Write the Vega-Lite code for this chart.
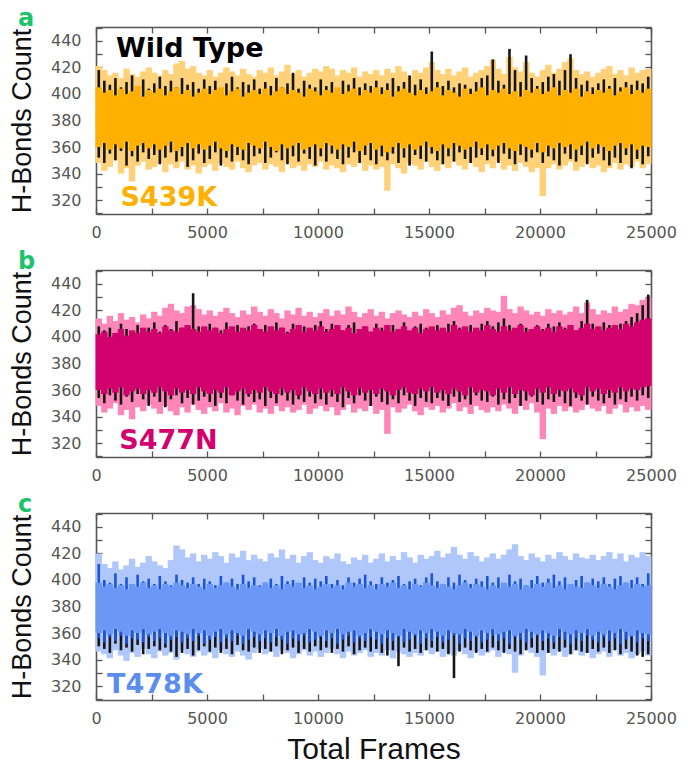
{
"$schema": "https://vega.github.io/schema/vega-lite/v6.json",
"background": "white",
"padding": {"left": 8, "top": 7, "right": 5, "bottom": 3},
"spacing": 56,
"bounds": "flush",
"config": {
  "view": {"stroke": null},
  "axis": {"grid": false, "domainColor": "#555", "domainWidth": 1.6, "tickColor": "#555", "tickWidth": 1.3, "tickSize": -6, "labelFont": "DejaVu Sans", "labelFontSize": 16, "labelColor": "#555", "labelFlush": false, "titleFont": "Liberation Sans", "titleFontWeight": "normal", "titleColor": "#111"},
  "title": {"anchor": "start", "frame": "group", "dx": -78, "offset": -5, "fontSize": 24, "fontWeight": "bold", "color": "#1DC36A", "font": "DejaVu Sans"}
},
"datasets": {
"a": [
{"x":125,"l0":348,"l1":421,"k0":352,"k1":418,"c0":360,"c1":405},
{"x":375,"l0":342,"l1":418,"k0":348,"k1":410,"c0":363,"c1":401},
{"x":625,"l0":345,"l1":414,"k0":355,"k1":407,"c0":358,"c1":403},
{"x":875,"l0":350,"l1":416,"k0":350,"k1":412,"c0":362,"c1":399},
{"x":1125,"l0":340,"l1":412,"k0":357,"k1":405,"c0":359,"c1":404},
{"x":1375,"l0":344,"l1":419,"k0":346,"k1":409,"c0":364,"c1":400},
{"x":1625,"l0":334,"l1":415,"k0":353,"k1":414,"c0":357,"c1":402},
{"x":1875,"l0":346,"l1":413,"k0":349,"k1":406,"c0":361,"c1":406},
{"x":2125,"l0":349,"l1":417,"k0":356,"k1":411,"c0":363,"c1":398},
{"x":2375,"l0":343,"l1":420,"k0":351,"k1":404,"c0":359,"c1":403},
{"x":2625,"l0":345,"l1":416,"k0":354,"k1":408,"c0":362,"c1":401},
{"x":2875,"l0":348,"l1":414,"k0":347,"k1":413,"c0":358,"c1":404},
{"x":3125,"l0":341,"l1":418,"k0":352,"k1":406,"c0":361,"c1":399},
{"x":3375,"l0":347,"l1":415,"k0":356,"k1":410,"c0":364,"c1":402},
{"x":3625,"l0":344,"l1":423,"k0":349,"k1":405,"c0":357,"c1":405},
{"x":3875,"l0":349,"l1":425,"k0":353,"k1":412,"c0":360,"c1":400},
{"x":4125,"l0":343,"l1":419,"k0":345,"k1":407,"c0":363,"c1":403},
{"x":4375,"l0":346,"l1":421,"k0":350,"k1":409,"c0":359,"c1":398},
{"x":4625,"l0":340,"l1":416,"k0":355,"k1":404,"c0":362,"c1":401},
{"x":4875,"l0":345,"l1":414,"k0":348,"k1":411,"c0":358,"c1":404},
{"x":5125,"l0":347,"l1":418,"k0":351,"k1":406,"c0":361,"c1":400},
{"x":5375,"l0":342,"l1":413,"k0":356,"k1":410,"c0":364,"c1":403},
{"x":5625,"l0":348,"l1":416,"k0":346,"k1":404,"c0":359,"c1":405},
{"x":5875,"l0":345,"l1":420,"k0":352,"k1":408,"c0":357,"c1":399},
{"x":6125,"l0":343,"l1":417,"k0":349,"k1":413,"c0":362,"c1":402},
{"x":6375,"l0":349,"l1":414,"k0":354,"k1":405,"c0":360,"c1":404},
{"x":6625,"l0":344,"l1":419,"k0":350,"k1":409,"c0":358,"c1":398},
{"x":6875,"l0":341,"l1":415,"k0":347,"k1":407,"c0":363,"c1":401},
{"x":7125,"l0":346,"l1":413,"k0":353,"k1":411,"c0":361,"c1":403},
{"x":7375,"l0":348,"l1":418,"k0":355,"k1":404,"c0":359,"c1":400},
{"x":7625,"l0":343,"l1":416,"k0":348,"k1":409,"c0":364,"c1":404},
{"x":7875,"l0":347,"l1":420,"k0":352,"k1":406,"c0":360,"c1":399},
{"x":8125,"l0":345,"l1":414,"k0":356,"k1":412,"c0":357,"c1":402},
{"x":8375,"l0":341,"l1":417,"k0":350,"k1":405,"c0":362,"c1":405},
{"x":8625,"l0":348,"l1":422,"k0":347,"k1":408,"c0":359,"c1":400},
{"x":8875,"l0":344,"l1":415,"k0":353,"k1":416,"c0":361,"c1":403},
{"x":9125,"l0":346,"l1":418,"k0":349,"k1":404,"c0":363,"c1":401},
{"x":9375,"l0":342,"l1":413,"k0":355,"k1":410,"c0":358,"c1":398},
{"x":9625,"l0":347,"l1":416,"k0":351,"k1":407,"c0":360,"c1":404},
{"x":9875,"l0":345,"l1":419,"k0":346,"k1":405,"c0":362,"c1":402},
{"x":10125,"l0":349,"l1":417,"k0":353,"k1":411,"c0":359,"c1":399},
{"x":10375,"l0":343,"l1":421,"k0":349,"k1":406,"c0":363,"c1":403},
{"x":10625,"l0":346,"l1":419,"k0":355,"k1":409,"c0":361,"c1":401},
{"x":10875,"l0":344,"l1":414,"k0":351,"k1":404,"c0":358,"c1":405},
{"x":11125,"l0":341,"l1":418,"k0":347,"k1":410,"c0":362,"c1":400},
{"x":11375,"l0":347,"l1":416,"k0":352,"k1":407,"c0":360,"c1":402},
{"x":11625,"l0":345,"l1":420,"k0":356,"k1":412,"c0":364,"c1":404},
{"x":11875,"l0":348,"l1":413,"k0":348,"k1":405,"c0":357,"c1":399},
{"x":12125,"l0":342,"l1":417,"k0":354,"k1":408,"c0":361,"c1":403},
{"x":12375,"l0":346,"l1":415,"k0":350,"k1":406,"c0":363,"c1":401},
{"x":12625,"l0":343,"l1":418,"k0":347,"k1":410,"c0":358,"c1":405},
{"x":12875,"l0":345,"l1":414,"k0":353,"k1":405,"c0":361,"c1":400},
{"x":13125,"l0":327,"l1":419,"k0":350,"k1":408,"c0":356,"c1":403},
{"x":13375,"l0":347,"l1":416,"k0":355,"k1":412,"c0":360,"c1":398},
{"x":13625,"l0":344,"l1":421,"k0":348,"k1":406,"c0":363,"c1":402},
{"x":13875,"l0":340,"l1":417,"k0":352,"k1":409,"c0":359,"c1":404},
{"x":14125,"l0":348,"l1":413,"k0":346,"k1":414,"c0":362,"c1":401},
{"x":14375,"l0":346,"l1":418,"k0":354,"k1":407,"c0":358,"c1":399},
{"x":14625,"l0":343,"l1":416,"k0":351,"k1":411,"c0":361,"c1":403},
{"x":14875,"l0":349,"l1":420,"k0":349,"k1":405,"c0":364,"c1":400},
{"x":15125,"l0":345,"l1":424,"k0":355,"k1":432,"c0":360,"c1":402},
{"x":15375,"l0":342,"l1":418,"k0":350,"k1":409,"c0":357,"c1":405},
{"x":15625,"l0":347,"l1":415,"k0":347,"k1":406,"c0":362,"c1":399},
{"x":15875,"l0":344,"l1":419,"k0":353,"k1":410,"c0":359,"c1":403},
{"x":16125,"l0":349,"l1":414,"k0":349,"k1":405,"c0":363,"c1":401},
{"x":16375,"l0":346,"l1":417,"k0":356,"k1":408,"c0":361,"c1":398},
{"x":16625,"l0":343,"l1":420,"k0":351,"k1":407,"c0":358,"c1":404},
{"x":16875,"l0":348,"l1":413,"k0":348,"k1":404,"c0":360,"c1":400},
{"x":17125,"l0":345,"l1":416,"k0":352,"k1":409,"c0":364,"c1":402},
{"x":17375,"l0":341,"l1":418,"k0":354,"k1":412,"c0":359,"c1":405},
{"x":17625,"l0":347,"l1":421,"k0":350,"k1":414,"c0":362,"c1":399},
{"x":17875,"l0":344,"l1":426,"k0":353,"k1":426,"c0":358,"c1":403},
{"x":18125,"l0":349,"l1":419,"k0":348,"k1":410,"c0":361,"c1":401},
{"x":18375,"l0":343,"l1":415,"k0":355,"k1":407,"c0":363,"c1":404},
{"x":18625,"l0":346,"l1":428,"k0":351,"k1":434,"c0":359,"c1":400},
{"x":18875,"l0":342,"l1":420,"k0":347,"k1":418,"c0":357,"c1":402},
{"x":19125,"l0":348,"l1":417,"k0":354,"k1":409,"c0":362,"c1":398},
{"x":19375,"l0":345,"l1":424,"k0":349,"k1":429,"c0":360,"c1":403},
{"x":19625,"l0":341,"l1":416,"k0":352,"k1":412,"c0":358,"c1":401},
{"x":19875,"l0":344,"l1":413,"k0":356,"k1":406,"c0":363,"c1":404},
{"x":20125,"l0":323,"l1":418,"k0":348,"k1":409,"c0":356,"c1":400},
{"x":20375,"l0":344,"l1":422,"k0":353,"k1":413,"c0":361,"c1":402},
{"x":20625,"l0":347,"l1":416,"k0":350,"k1":415,"c0":359,"c1":405},
{"x":20875,"l0":343,"l1":419,"k0":346,"k1":410,"c0":363,"c1":399},
{"x":21125,"l0":346,"l1":424,"k0":355,"k1":418,"c0":360,"c1":403},
{"x":21375,"l0":349,"l1":427,"k0":351,"k1":430,"c0":362,"c1":401},
{"x":21625,"l0":342,"l1":418,"k0":349,"k1":412,"c0":358,"c1":404},
{"x":21875,"l0":345,"l1":415,"k0":354,"k1":407,"c0":361,"c1":398},
{"x":22125,"l0":348,"l1":417,"k0":347,"k1":410,"c0":364,"c1":402},
{"x":22375,"l0":344,"l1":413,"k0":352,"k1":405,"c0":359,"c1":400},
{"x":22625,"l0":346,"l1":416,"k0":355,"k1":408,"c0":362,"c1":403},
{"x":22875,"l0":341,"l1":419,"k0":350,"k1":411,"c0":360,"c1":401},
{"x":23125,"l0":344,"l1":421,"k0":346,"k1":406,"c0":357,"c1":404},
{"x":23375,"l0":348,"l1":415,"k0":352,"k1":412,"c0":361,"c1":399},
{"x":23625,"l0":343,"l1":418,"k0":348,"k1":405,"c0":363,"c1":402},
{"x":23875,"l0":347,"l1":414,"k0":354,"k1":409,"c0":359,"c1":405},
{"x":24125,"l0":345,"l1":420,"k0":344,"k1":407,"c0":362,"c1":400},
{"x":24375,"l0":349,"l1":416,"k0":351,"k1":410,"c0":358,"c1":403},
{"x":24625,"l0":344,"l1":418,"k0":347,"k1":408,"c0":361,"c1":401},
{"x":24875,"l0":347,"l1":419,"k0":353,"k1":413,"c0":360,"c1":404}
],
"b": [
{"x":125,"l0":348,"l1":414,"k0":354,"k1":408,"c0":360,"c1":402},
{"x":375,"l0":343,"l1":410,"k0":350,"k1":405,"c0":357,"c1":404},
{"x":625,"l0":346,"l1":416,"k0":356,"k1":407,"c0":361,"c1":400},
{"x":875,"l0":350,"l1":412,"k0":352,"k1":403,"c0":358,"c1":403},
{"x":1125,"l0":341,"l1":418,"k0":349,"k1":410,"c0":362,"c1":406},
{"x":1375,"l0":345,"l1":413,"k0":355,"k1":406,"c0":356,"c1":401},
{"x":1625,"l0":338,"l1":415,"k0":351,"k1":404,"c0":359,"c1":405},
{"x":1875,"l0":347,"l1":411,"k0":357,"k1":409,"c0":361,"c1":403},
{"x":2125,"l0":344,"l1":417,"k0":353,"k1":405,"c0":357,"c1":407},
{"x":2375,"l0":349,"l1":414,"k0":348,"k1":407,"c0":360,"c1":404},
{"x":2625,"l0":346,"l1":419,"k0":355,"k1":411,"c0":358,"c1":406},
{"x":2875,"l0":342,"l1":416,"k0":351,"k1":404,"c0":362,"c1":403},
{"x":3125,"l0":348,"l1":422,"k0":347,"k1":409,"c0":359,"c1":408},
{"x":3375,"l0":344,"l1":425,"k0":353,"k1":406,"c0":356,"c1":405},
{"x":3625,"l0":341,"l1":420,"k0":356,"k1":412,"c0":361,"c1":404},
{"x":3875,"l0":347,"l1":418,"k0":350,"k1":407,"c0":358,"c1":407},
{"x":4125,"l0":343,"l1":423,"k0":354,"k1":405,"c0":360,"c1":409},
{"x":4375,"l0":349,"l1":424,"k0":349,"k1":433,"c0":357,"c1":406},
{"x":4625,"l0":345,"l1":421,"k0":352,"k1":408,"c0":362,"c1":404},
{"x":4875,"l0":342,"l1":417,"k0":355,"k1":406,"c0":359,"c1":408},
{"x":5125,"l0":347,"l1":420,"k0":351,"k1":410,"c0":357,"c1":405},
{"x":5375,"l0":344,"l1":416,"k0":348,"k1":407,"c0":360,"c1":407},
{"x":5625,"l0":350,"l1":419,"k0":354,"k1":405,"c0":358,"c1":403},
{"x":5875,"l0":343,"l1":422,"k0":350,"k1":411,"c0":362,"c1":406},
{"x":6125,"l0":346,"l1":418,"k0":356,"k1":406,"c0":356,"c1":408},
{"x":6375,"l0":341,"l1":415,"k0":352,"k1":409,"c0":359,"c1":404},
{"x":6625,"l0":348,"l1":420,"k0":349,"k1":404,"c0":361,"c1":407},
{"x":6875,"l0":345,"l1":417,"k0":355,"k1":408,"c0":357,"c1":405},
{"x":7125,"l0":349,"l1":423,"k0":351,"k1":410,"c0":360,"c1":409},
{"x":7375,"l0":343,"l1":419,"k0":353,"k1":406,"c0":358,"c1":406},
{"x":7625,"l0":346,"l1":416,"k0":348,"k1":409,"c0":362,"c1":404},
{"x":7875,"l0":342,"l1":421,"k0":354,"k1":405,"c0":359,"c1":408},
{"x":8125,"l0":348,"l1":418,"k0":350,"k1":411,"c0":357,"c1":405},
{"x":8375,"l0":344,"l1":414,"k0":356,"k1":407,"c0":361,"c1":407},
{"x":8625,"l0":347,"l1":420,"k0":352,"k1":404,"c0":358,"c1":403},
{"x":8875,"l0":343,"l1":417,"k0":349,"k1":410,"c0":360,"c1":406},
{"x":9125,"l0":345,"l1":422,"k0":353,"k1":406,"c0":356,"c1":409},
{"x":9375,"l0":349,"l1":416,"k0":351,"k1":408,"c0":362,"c1":404},
{"x":9625,"l0":342,"l1":419,"k0":355,"k1":405,"c0":359,"c1":407},
{"x":9875,"l0":346,"l1":415,"k0":350,"k1":409,"c0":357,"c1":405},
{"x":10125,"l0":348,"l1":418,"k0":353,"k1":412,"c0":361,"c1":408},
{"x":10375,"l0":344,"l1":421,"k0":349,"k1":406,"c0":358,"c1":404},
{"x":10625,"l0":347,"l1":416,"k0":355,"k1":410,"c0":360,"c1":406},
{"x":10875,"l0":341,"l1":420,"k0":351,"k1":407,"c0":357,"c1":409},
{"x":11125,"l0":345,"l1":417,"k0":347,"k1":405,"c0":362,"c1":405},
{"x":11375,"l0":349,"l1":423,"k0":354,"k1":409,"c0":359,"c1":407},
{"x":11625,"l0":343,"l1":419,"k0":350,"k1":411,"c0":356,"c1":403},
{"x":11875,"l0":346,"l1":415,"k0":356,"k1":406,"c0":361,"c1":406},
{"x":12125,"l0":344,"l1":418,"k0":352,"k1":408,"c0":358,"c1":408},
{"x":12375,"l0":348,"l1":421,"k0":348,"k1":404,"c0":360,"c1":404},
{"x":12625,"l0":342,"l1":416,"k0":355,"k1":410,"c0":357,"c1":407},
{"x":12875,"l0":345,"l1":419,"k0":351,"k1":407,"c0":361,"c1":405},
{"x":13125,"l0":327,"l1":414,"k0":349,"k1":405,"c0":359,"c1":409},
{"x":13375,"l0":347,"l1":418,"k0":353,"k1":409,"c0":356,"c1":404},
{"x":13625,"l0":343,"l1":420,"k0":350,"k1":406,"c0":360,"c1":406},
{"x":13875,"l0":346,"l1":417,"k0":356,"k1":411,"c0":362,"c1":408},
{"x":14125,"l0":349,"l1":415,"k0":352,"k1":404,"c0":358,"c1":405},
{"x":14375,"l0":344,"l1":419,"k0":348,"k1":408,"c0":357,"c1":407},
{"x":14625,"l0":341,"l1":416,"k0":354,"k1":410,"c0":361,"c1":403},
{"x":14875,"l0":347,"l1":421,"k0":351,"k1":407,"c0":359,"c1":406},
{"x":15125,"l0":345,"l1":418,"k0":350,"k1":405,"c0":362,"c1":408},
{"x":15375,"l0":348,"l1":415,"k0":354,"k1":409,"c0":358,"c1":405},
{"x":15625,"l0":343,"l1":420,"k0":352,"k1":406,"c0":360,"c1":407},
{"x":15875,"l0":346,"l1":417,"k0":348,"k1":410,"c0":357,"c1":404},
{"x":16125,"l0":350,"l1":422,"k0":355,"k1":412,"c0":361,"c1":409},
{"x":16375,"l0":344,"l1":424,"k0":351,"k1":407,"c0":359,"c1":406},
{"x":16625,"l0":347,"l1":419,"k0":353,"k1":405,"c0":356,"c1":408},
{"x":16875,"l0":342,"l1":416,"k0":349,"k1":409,"c0":362,"c1":404},
{"x":17125,"l0":348,"l1":420,"k0":356,"k1":406,"c0":358,"c1":407},
{"x":17375,"l0":345,"l1":418,"k0":352,"k1":410,"c0":360,"c1":405},
{"x":17625,"l0":343,"l1":422,"k0":351,"k1":412,"c0":359,"c1":409},
{"x":17875,"l0":347,"l1":420,"k0":355,"k1":408,"c0":356,"c1":406},
{"x":18125,"l0":344,"l1":419,"k0":349,"k1":411,"c0":361,"c1":404},
{"x":18375,"l0":349,"l1":431,"k0":353,"k1":414,"c0":358,"c1":408},
{"x":18625,"l0":346,"l1":421,"k0":350,"k1":409,"c0":362,"c1":405},
{"x":18875,"l0":342,"l1":418,"k0":354,"k1":406,"c0":357,"c1":407},
{"x":19125,"l0":348,"l1":423,"k0":348,"k1":410,"c0":360,"c1":409},
{"x":19375,"l0":345,"l1":420,"k0":352,"k1":407,"c0":359,"c1":404},
{"x":19625,"l0":350,"l1":417,"k0":355,"k1":405,"c0":356,"c1":406},
{"x":19875,"l0":343,"l1":419,"k0":351,"k1":409,"c0":361,"c1":408},
{"x":20125,"l0":323,"l1":416,"k0":349,"k1":406,"c0":358,"c1":405},
{"x":20375,"l0":346,"l1":421,"k0":353,"k1":410,"c0":362,"c1":407},
{"x":20625,"l0":342,"l1":418,"k0":351,"k1":408,"c0":357,"c1":404},
{"x":20875,"l0":348,"l1":420,"k0":355,"k1":411,"c0":360,"c1":408},
{"x":21125,"l0":344,"l1":417,"k0":350,"k1":407,"c0":359,"c1":406},
{"x":21375,"l0":347,"l1":419,"k0":348,"k1":409,"c0":361,"c1":409},
{"x":21625,"l0":343,"l1":423,"k0":354,"k1":405,"c0":358,"c1":405},
{"x":21875,"l0":345,"l1":418,"k0":352,"k1":412,"c0":356,"c1":407},
{"x":22125,"l0":349,"l1":426,"k0":349,"k1":428,"c0":362,"c1":410},
{"x":22375,"l0":346,"l1":421,"k0":355,"k1":410,"c0":359,"c1":406},
{"x":22625,"l0":344,"l1":417,"k0":352,"k1":407,"c0":361,"c1":408},
{"x":22875,"l0":348,"l1":420,"k0":350,"k1":411,"c0":357,"c1":405},
{"x":23125,"l0":342,"l1":418,"k0":354,"k1":409,"c0":360,"c1":407},
{"x":23375,"l0":346,"l1":423,"k0":349,"k1":406,"c0":358,"c1":409},
{"x":23625,"l0":349,"l1":419,"k0":353,"k1":410,"c0":362,"c1":406},
{"x":23875,"l0":343,"l1":421,"k0":351,"k1":412,"c0":359,"c1":410},
{"x":24125,"l0":347,"l1":425,"k0":355,"k1":415,"c0":361,"c1":408},
{"x":24375,"l0":344,"l1":424,"k0":352,"k1":418,"c0":360,"c1":411},
{"x":24625,"l0":348,"l1":428,"k0":356,"k1":424,"c0":362,"c1":413},
{"x":24875,"l0":345,"l1":430,"k0":354,"k1":432,"c0":363,"c1":414}
],
"c": [
{"x":125,"l0":346,"l1":420,"k0":350,"d0":356,"d1":412,"c0":360,"c1":398},
{"x":375,"l0":344,"l1":412,"k0":348,"d0":353,"d1":400,"c0":362,"c1":395},
{"x":625,"l0":341,"l1":409,"k0":345,"d0":357,"d1":398,"c0":359,"c1":397},
{"x":875,"l0":347,"l1":414,"k0":352,"d0":354,"d1":405,"c0":363,"c1":394},
{"x":1125,"l0":343,"l1":408,"k0":347,"d0":358,"d1":397,"c0":361,"c1":396},
{"x":1375,"l0":339,"l1":411,"k0":349,"d0":352,"d1":402,"c0":358,"c1":393},
{"x":1625,"l0":345,"l1":416,"k0":346,"d0":356,"d1":396,"c0":362,"c1":397},
{"x":1875,"l0":342,"l1":410,"k0":351,"d0":355,"d1":404,"c0":360,"c1":395},
{"x":2125,"l0":348,"l1":413,"k0":344,"d0":353,"d1":399,"c0":363,"c1":398},
{"x":2375,"l0":344,"l1":418,"k0":348,"d0":357,"d1":401,"c0":359,"c1":394},
{"x":2625,"l0":341,"l1":414,"k0":350,"d0":354,"d1":397,"c0":361,"c1":396},
{"x":2875,"l0":346,"l1":411,"k0":347,"d0":356,"d1":403,"c0":363,"c1":393},
{"x":3125,"l0":343,"l1":409,"k0":349,"d0":352,"d1":399,"c0":360,"c1":397},
{"x":3375,"l0":345,"l1":415,"k0":346,"d0":355,"d1":396,"c0":358,"c1":395},
{"x":3625,"l0":340,"l1":426,"k0":342,"d0":357,"d1":404,"c0":362,"c1":398},
{"x":3875,"l0":347,"l1":423,"k0":345,"d0":353,"d1":400,"c0":361,"c1":396},
{"x":4125,"l0":344,"l1":417,"k0":348,"d0":356,"d1":398,"c0":359,"c1":394},
{"x":4375,"l0":342,"l1":420,"k0":343,"d0":354,"d1":402,"c0":363,"c1":397},
{"x":4625,"l0":346,"l1":414,"k0":347,"d0":358,"d1":397,"c0":360,"c1":395},
{"x":4875,"l0":343,"l1":419,"k0":350,"d0":352,"d1":401,"c0":362,"c1":393},
{"x":5125,"l0":345,"l1":416,"k0":346,"d0":355,"d1":399,"c0":358,"c1":397},
{"x":5375,"l0":341,"l1":421,"k0":349,"d0":357,"d1":396,"c0":361,"c1":394},
{"x":5625,"l0":347,"l1":418,"k0":345,"d0":353,"d1":403,"c0":363,"c1":396},
{"x":5875,"l0":344,"l1":413,"k0":348,"d0":356,"d1":398,"c0":359,"c1":398},
{"x":6125,"l0":342,"l1":420,"k0":344,"d0":354,"d1":401,"c0":362,"c1":395},
{"x":6375,"l0":346,"l1":417,"k0":351,"d0":358,"d1":397,"c0":360,"c1":393},
{"x":6625,"l0":343,"l1":422,"k0":347,"d0":352,"d1":404,"c0":358,"c1":397},
{"x":6875,"l0":340,"l1":415,"k0":346,"d0":355,"d1":399,"c0":363,"c1":394},
{"x":7125,"l0":345,"l1":419,"k0":349,"d0":357,"d1":402,"c0":361,"c1":396},
{"x":7375,"l0":348,"l1":416,"k0":345,"d0":354,"d1":396,"c0":359,"c1":395},
{"x":7625,"l0":344,"l1":414,"k0":348,"d0":356,"d1":398,"c0":362,"c1":398},
{"x":7875,"l0":346,"l1":420,"k0":346,"d0":353,"d1":401,"c0":360,"c1":394},
{"x":8125,"l0":342,"l1":417,"k0":350,"d0":357,"d1":397,"c0":363,"c1":396},
{"x":8375,"l0":347,"l1":423,"k0":344,"d0":355,"d1":403,"c0":358,"c1":393},
{"x":8625,"l0":345,"l1":416,"k0":347,"d0":352,"d1":399,"c0":361,"c1":397},
{"x":8875,"l0":341,"l1":419,"k0":349,"d0":356,"d1":400,"c0":362,"c1":395},
{"x":9125,"l0":344,"l1":413,"k0":345,"d0":354,"d1":396,"c0":359,"c1":398},
{"x":9375,"l0":347,"l1":418,"k0":348,"d0":358,"d1":402,"c0":360,"c1":394},
{"x":9625,"l0":343,"l1":421,"k0":346,"d0":353,"d1":398,"c0":363,"c1":396},
{"x":9875,"l0":346,"l1":415,"k0":350,"d0":355,"d1":401,"c0":361,"c1":393},
{"x":10125,"l0":342,"l1":413,"k0":347,"d0":357,"d1":399,"c0":358,"c1":395},
{"x":10375,"l0":345,"l1":418,"k0":349,"d0":354,"d1":403,"c0":362,"c1":397},
{"x":10625,"l0":348,"l1":416,"k0":345,"d0":356,"d1":397,"c0":360,"c1":394},
{"x":10875,"l0":344,"l1":420,"k0":348,"d0":352,"d1":400,"c0":363,"c1":396},
{"x":11125,"l0":341,"l1":414,"k0":346,"d0":355,"d1":396,"c0":359,"c1":393},
{"x":11375,"l0":346,"l1":412,"k0":350,"d0":358,"d1":402,"c0":361,"c1":398},
{"x":11625,"l0":343,"l1":417,"k0":344,"d0":353,"d1":398,"c0":362,"c1":395},
{"x":11875,"l0":345,"l1":415,"k0":347,"d0":356,"d1":401,"c0":358,"c1":397},
{"x":12125,"l0":347,"l1":419,"k0":349,"d0":354,"d1":404,"c0":360,"c1":394},
{"x":12375,"l0":342,"l1":413,"k0":346,"d0":357,"d1":399,"c0":363,"c1":396},
{"x":12625,"l0":345,"l1":416,"k0":348,"d0":355,"d1":397,"c0":361,"c1":393},
{"x":12875,"l0":343,"l1":420,"k0":345,"d0":352,"d1":402,"c0":359,"c1":397},
{"x":13125,"l0":347,"l1":414,"k0":343,"d0":356,"d1":398,"c0":362,"c1":395},
{"x":13375,"l0":341,"l1":418,"k0":347,"d0":354,"d1":400,"c0":360,"c1":398},
{"x":13625,"l0":346,"l1":415,"k0":335,"d0":357,"d1":403,"c0":358,"c1":394},
{"x":13875,"l0":344,"l1":421,"k0":349,"d0":353,"d1":397,"c0":363,"c1":396},
{"x":14125,"l0":342,"l1":417,"k0":346,"d0":355,"d1":399,"c0":361,"c1":393},
{"x":14375,"l0":345,"l1":413,"k0":348,"d0":358,"d1":401,"c0":359,"c1":397},
{"x":14625,"l0":343,"l1":419,"k0":345,"d0":352,"d1":396,"c0":362,"c1":395},
{"x":14875,"l0":347,"l1":416,"k0":347,"d0":356,"d1":402,"c0":360,"c1":398},
{"x":15125,"l0":344,"l1":418,"k0":349,"d0":354,"d1":405,"c0":363,"c1":396},
{"x":15375,"l0":346,"l1":422,"k0":346,"d0":357,"d1":399,"c0":361,"c1":394},
{"x":15625,"l0":342,"l1":417,"k0":348,"d0":353,"d1":397,"c0":358,"c1":397},
{"x":15875,"l0":345,"l1":420,"k0":344,"d0":355,"d1":402,"c0":362,"c1":395},
{"x":16125,"l0":343,"l1":425,"k0":326,"d0":358,"d1":398,"c0":360,"c1":393},
{"x":16375,"l0":347,"l1":419,"k0":346,"d0":352,"d1":404,"c0":359,"c1":396},
{"x":16625,"l0":344,"l1":416,"k0":349,"d0":356,"d1":400,"c0":363,"c1":398},
{"x":16875,"l0":341,"l1":421,"k0":347,"d0":354,"d1":397,"c0":361,"c1":394},
{"x":17125,"l0":346,"l1":418,"k0":345,"d0":357,"d1":401,"c0":358,"c1":397},
{"x":17375,"l0":343,"l1":414,"k0":348,"d0":353,"d1":399,"c0":362,"c1":395},
{"x":17625,"l0":345,"l1":417,"k0":346,"d0":355,"d1":403,"c0":360,"c1":393},
{"x":17875,"l0":347,"l1":420,"k0":349,"d0":358,"d1":398,"c0":363,"c1":396},
{"x":18125,"l0":342,"l1":416,"k0":347,"d0":354,"d1":402,"c0":359,"c1":394},
{"x":18375,"l0":346,"l1":419,"k0":345,"d0":356,"d1":397,"c0":361,"c1":398},
{"x":18625,"l0":344,"l1":423,"k0":348,"d0":352,"d1":404,"c0":362,"c1":395},
{"x":18875,"l0":330,"l1":427,"k0":346,"d0":357,"d1":399,"c0":358,"c1":397},
{"x":19125,"l0":343,"l1":418,"k0":344,"d0":355,"d1":401,"c0":360,"c1":393},
{"x":19375,"l0":347,"l1":415,"k0":347,"d0":353,"d1":396,"c0":363,"c1":396},
{"x":19625,"l0":345,"l1":420,"k0":349,"d0":356,"d1":400,"c0":361,"c1":394},
{"x":19875,"l0":342,"l1":417,"k0":345,"d0":358,"d1":403,"c0":359,"c1":397},
{"x":20125,"l0":328,"l1":414,"k0":347,"d0":354,"d1":398,"c0":362,"c1":395},
{"x":20375,"l0":345,"l1":419,"k0":345,"d0":356,"d1":401,"c0":360,"c1":398},
{"x":20625,"l0":343,"l1":416,"k0":348,"d0":353,"d1":404,"c0":358,"c1":394},
{"x":20875,"l0":346,"l1":421,"k0":346,"d0":357,"d1":399,"c0":363,"c1":396},
{"x":21125,"l0":342,"l1":418,"k0":349,"d0":355,"d1":402,"c0":361,"c1":393},
{"x":21375,"l0":344,"l1":415,"k0":344,"d0":352,"d1":397,"c0":359,"c1":397},
{"x":21625,"l0":347,"l1":420,"k0":347,"d0":356,"d1":400,"c0":362,"c1":395},
{"x":21875,"l0":343,"l1":417,"k0":346,"d0":354,"d1":403,"c0":360,"c1":394},
{"x":22125,"l0":345,"l1":416,"k0":345,"d0":358,"d1":398,"c0":363,"c1":398},
{"x":22375,"l0":341,"l1":419,"k0":348,"d0":355,"d1":401,"c0":358,"c1":396},
{"x":22625,"l0":344,"l1":415,"k0":346,"d0":353,"d1":399,"c0":361,"c1":394},
{"x":22875,"l0":346,"l1":418,"k0":349,"d0":357,"d1":402,"c0":359,"c1":397},
{"x":23125,"l0":342,"l1":421,"k0":345,"d0":354,"d1":397,"c0":362,"c1":395},
{"x":23375,"l0":347,"l1":416,"k0":347,"d0":356,"d1":401,"c0":360,"c1":393},
{"x":23625,"l0":343,"l1":420,"k0":344,"d0":352,"d1":403,"c0":363,"c1":396},
{"x":23875,"l0":345,"l1":414,"k0":348,"d0":355,"d1":398,"c0":361,"c1":398},
{"x":24125,"l0":341,"l1":419,"k0":346,"d0":357,"d1":400,"c0":358,"c1":394},
{"x":24375,"l0":344,"l1":417,"k0":343,"d0":353,"d1":402,"c0":362,"c1":397},
{"x":24625,"l0":346,"l1":421,"k0":342,"d0":356,"d1":397,"c0":360,"c1":395},
{"x":24875,"l0":343,"l1":418,"k0":344,"d0":354,"d1":405,"c0":359,"c1":396}
]
},
"vconcat": [
{
 "width": 555, "height": 187,
 "title": {"text": "a"},
 "data": {"name": "a"},
 "resolve": {"axis": {"x": "independent", "y": "independent"}},
 "layer": [
  {"mark": {"type": "rule", "strokeWidth": 6.4, "color": "#FFD27A"},
   "encoding": {
    "x": {"field": "x", "type": "quantitative", "scale": {"domain": [0, 25000], "nice": false, "zero": false}, "axis": {"orient": "bottom", "values": [0,2500,5000,7500,10000,12500,15000,17500,20000,22500,25000], "format": "d", "labelExpr": "datum.value % 5000 === 0 ? datum.label : ''", "labelPadding": 16, "title": null}},
    "y": {"field": "l0", "type": "quantitative", "scale": {"domain": [309.5, 450.5], "nice": false, "zero": false}, "axis": {"orient": "left", "values": [310,320,330,340,350,360,370,380,390,400,410,420,430,440,450], "labelExpr": "datum.value % 20 === 0 ? datum.label : ''", "labelPadding": 21, "title": "H-Bonds Count", "titleFontSize": 27, "titlePadding": 14}},
    "y2": {"field": "l1"}}},
  {"mark": {"type": "rule", "strokeWidth": 2.6, "color": "#161616"},
   "encoding": {"x": {"field": "x", "type": "quantitative", "scale": {"domain": [0, 25000], "nice": false, "zero": false}, "axis": null}, "y": {"field": "k0", "type": "quantitative", "scale": {"domain": [309.5, 450.5], "nice": false, "zero": false}, "axis": null}, "y2": {"field": "k1"}}},
  {"mark": {"type": "rule", "strokeWidth": 6.4, "color": "#FFB000"},
   "encoding": {
    "x": {"field": "x", "type": "quantitative", "scale": {"domain": [0, 25000], "nice": false, "zero": false}, "axis": {"orient": "top", "values": [0,2500,5000,7500,10000,12500,15000,17500,20000,22500,25000], "labels": false, "title": null}},
    "y": {"field": "c0", "type": "quantitative", "scale": {"domain": [309.5, 450.5], "nice": false, "zero": false}, "axis": {"orient": "right", "values": [310,320,330,340,350,360,370,380,390,400,410,420,430,440,450], "labels": false, "title": null}},
    "y2": {"field": "c1"}}},
  {"data": {"values": [{}]},
   "mark": {"type": "text", "text": "Wild Type", "font": "DejaVu Sans", "fontSize": 27, "fontWeight": "bold", "color": "#000", "align": "left", "baseline": "alphabetic"},
   "encoding": {"x": {"datum": 900, "type": "quantitative", "scale": {"domain": [0, 25000], "nice": false, "zero": false}, "axis": null}, "y": {"datum": 428, "type": "quantitative", "scale": {"domain": [309.5, 450.5], "nice": false, "zero": false}, "axis": null}}},
  {"data": {"values": [{}]},
   "mark": {"type": "text", "text": "S439K", "font": "DejaVu Sans", "fontSize": 27, "fontWeight": "bold", "color": "#FFB000", "align": "left", "baseline": "alphabetic"},
   "encoding": {"x": {"datum": 1100, "type": "quantitative", "scale": {"domain": [0, 25000], "nice": false, "zero": false}, "axis": null}, "y": {"datum": 315.5, "type": "quantitative", "scale": {"domain": [309.5, 450.5], "nice": false, "zero": false}, "axis": null}}}
 ]
},
{
 "width": 555, "height": 187,
 "title": {"text": "b"},
 "data": {"name": "b"},
 "resolve": {"axis": {"x": "independent", "y": "independent"}},
 "layer": [
  {"mark": {"type": "rule", "strokeWidth": 6.4, "color": "#FF86B8"},
   "encoding": {
    "x": {"field": "x", "type": "quantitative", "scale": {"domain": [0, 25000], "nice": false, "zero": false}, "axis": {"orient": "bottom", "values": [0,2500,5000,7500,10000,12500,15000,17500,20000,22500,25000], "format": "d", "labelExpr": "datum.value % 5000 === 0 ? datum.label : ''", "labelPadding": 16, "title": null}},
    "y": {"field": "l0", "type": "quantitative", "scale": {"domain": [309.5, 450.5], "nice": false, "zero": false}, "axis": {"orient": "left", "values": [310,320,330,340,350,360,370,380,390,400,410,420,430,440,450], "labelExpr": "datum.value % 20 === 0 ? datum.label : ''", "labelPadding": 21, "title": "H-Bonds Count", "titleFontSize": 27, "titlePadding": 14}},
    "y2": {"field": "l1"}}},
  {"mark": {"type": "rule", "strokeWidth": 2.6, "color": "#161616"},
   "encoding": {"x": {"field": "x", "type": "quantitative", "scale": {"domain": [0, 25000], "nice": false, "zero": false}, "axis": null}, "y": {"field": "k0", "type": "quantitative", "scale": {"domain": [309.5, 450.5], "nice": false, "zero": false}, "axis": null}, "y2": {"field": "k1"}}},
  {"mark": {"type": "rule", "strokeWidth": 6.4, "color": "#D2006C"},
   "encoding": {
    "x": {"field": "x", "type": "quantitative", "scale": {"domain": [0, 25000], "nice": false, "zero": false}, "axis": {"orient": "top", "values": [0,2500,5000,7500,10000,12500,15000,17500,20000,22500,25000], "labels": false, "title": null}},
    "y": {"field": "c0", "type": "quantitative", "scale": {"domain": [309.5, 450.5], "nice": false, "zero": false}, "axis": {"orient": "right", "values": [310,320,330,340,350,360,370,380,390,400,410,420,430,440,450], "labels": false, "title": null}},
    "y2": {"field": "c1"}}},
  {"data": {"values": [{}]},
   "mark": {"type": "text", "text": "S477N", "font": "DejaVu Sans", "fontSize": 27, "fontWeight": "bold", "color": "#D4006F", "align": "left", "baseline": "alphabetic"},
   "encoding": {"x": {"datum": 1050, "type": "quantitative", "scale": {"domain": [0, 25000], "nice": false, "zero": false}, "axis": null}, "y": {"datum": 315.7, "type": "quantitative", "scale": {"domain": [309.5, 450.5], "nice": false, "zero": false}, "axis": null}}}
 ]
},
{
 "width": 555, "height": 187,
 "title": {"text": "c"},
 "data": {"name": "c"},
 "resolve": {"axis": {"x": "independent", "y": "independent"}},
 "layer": [
  {"mark": {"type": "rule", "strokeWidth": 6.4, "color": "#AFC7FB"},
   "encoding": {
    "x": {"field": "x", "type": "quantitative", "scale": {"domain": [0, 25000], "nice": false, "zero": false}, "axis": {"orient": "bottom", "values": [0,2500,5000,7500,10000,12500,15000,17500,20000,22500,25000], "format": "d", "labelExpr": "datum.value % 5000 === 0 ? datum.label : ''", "labelPadding": 16, "title": "Total Frames", "titleFontSize": 30, "titlePadding": 8}},
    "y": {"field": "l0", "type": "quantitative", "scale": {"domain": [309.5, 450.5], "nice": false, "zero": false}, "axis": {"orient": "left", "values": [310,320,330,340,350,360,370,380,390,400,410,420,430,440,450], "labelExpr": "datum.value % 20 === 0 ? datum.label : ''", "labelPadding": 21, "title": "H-Bonds Count", "titleFontSize": 27, "titlePadding": 14}},
    "y2": {"field": "l1"}}},
  {"mark": {"type": "rule", "strokeWidth": 2.6, "color": "#161616"},
   "encoding": {"x": {"field": "x", "type": "quantitative", "scale": {"domain": [0, 25000], "nice": false, "zero": false}, "axis": null}, "y": {"field": "k0", "type": "quantitative", "scale": {"domain": [309.5, 450.5], "nice": false, "zero": false}, "axis": null}, "y2": {"field": "c0"}}},
  {"mark": {"type": "rule", "strokeWidth": 2.6, "color": "#1A55D8"},
   "encoding": {"x": {"field": "x", "type": "quantitative", "scale": {"domain": [0, 25000], "nice": false, "zero": false}, "axis": null}, "y": {"field": "d0", "type": "quantitative", "scale": {"domain": [309.5, 450.5], "nice": false, "zero": false}, "axis": null}, "y2": {"field": "d1"}}},
  {"mark": {"type": "rule", "strokeWidth": 6.4, "color": "#6B98F6"},
   "encoding": {
    "x": {"field": "x", "type": "quantitative", "scale": {"domain": [0, 25000], "nice": false, "zero": false}, "axis": {"orient": "top", "values": [0,2500,5000,7500,10000,12500,15000,17500,20000,22500,25000], "labels": false, "title": null}},
    "y": {"field": "c0", "type": "quantitative", "scale": {"domain": [309.5, 450.5], "nice": false, "zero": false}, "axis": {"orient": "right", "values": [310,320,330,340,350,360,370,380,390,400,410,420,430,440,450], "labels": false, "title": null}},
    "y2": {"field": "c1"}}},
  {"data": {"values": [{}]},
   "mark": {"type": "text", "text": "T478K", "font": "DejaVu Sans", "fontSize": 27, "fontWeight": "bold", "color": "#5B8DEF", "align": "left", "baseline": "alphabetic"},
   "encoding": {"x": {"datum": 500, "type": "quantitative", "scale": {"domain": [0, 25000], "nice": false, "zero": false}, "axis": null}, "y": {"datum": 314.7, "type": "quantitative", "scale": {"domain": [309.5, 450.5], "nice": false, "zero": false}, "axis": null}}}
 ]
}
]
}
